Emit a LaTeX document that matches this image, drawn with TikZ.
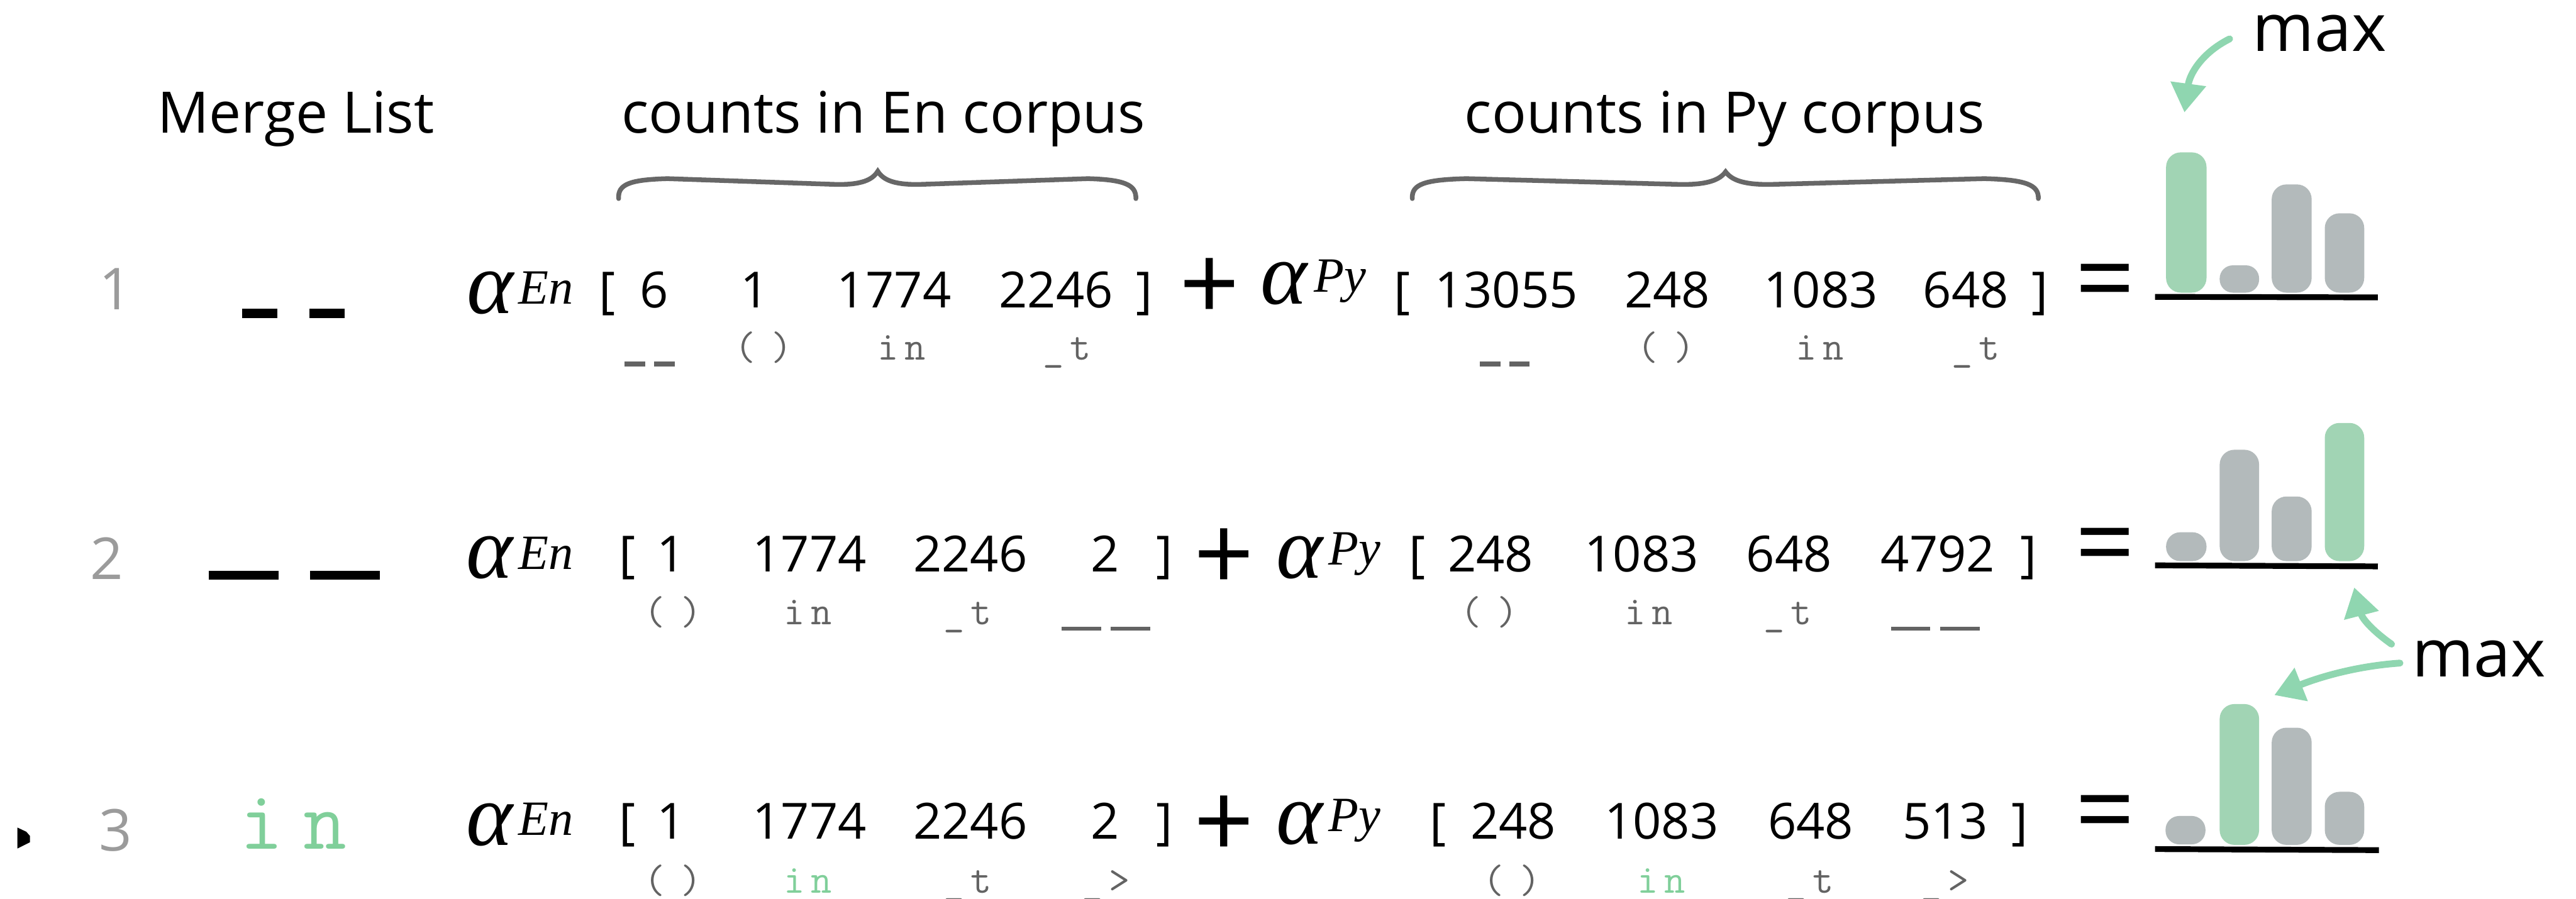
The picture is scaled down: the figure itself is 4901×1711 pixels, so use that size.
\documentclass[tikz,border=0pt]{standalone}
\usepackage{fontspec}
\setmainfont{Open Sans}
\newfontfamily\serfont{Liberation Serif}
\usetikzlibrary{arrows.meta}
\definecolor{barGreen}{HTML}{A1D4B4}
\definecolor{barGray}{HTML}{B3BABB}
\definecolor{arrGreen}{HTML}{8FD6B0}
\definecolor{txtGreen}{HTML}{80CF9A}
\definecolor{lblGray}{HTML}{636363}
\definecolor{numGray}{HTML}{9B9B9B}
\definecolor{braceGray}{HTML}{676767}
\newcommand\fsz[1]{\fontsize{#1}{#1}\selectfont}
\newcommand\mtok[3]{\rule{#1}{#2}\hspace{#3}\rule{#1}{#2}}
\begin{document}
\begin{tikzpicture}[x=0.1mm,y=-0.1mm,
  every node/.style={inner sep=0pt,outer sep=0pt},
  hdr/.style={anchor=base,font={\fsz{31}}},
  num/.style={anchor=base,font={\fsz{27}}},
  rown/.style={anchor=base,font={\fsz{31.3}},text=numGray},
  lbl/.style={anchor=base,font={\ttfamily\fsz{22}},text=lblGray},
  lblrule/.style={anchor=center,text=lblGray},
  optxt/.style={anchor=center,font={\fsz{57}}},
  alph/.style={anchor=base,font={\serfont\itshape\fsz{48}}},
  supr/.style={anchor=base west,font={\serfont\itshape\fsz{26.7}}},
  maxlbl/.style={anchor=base,font={\fsz{36}}},
  bracepath/.style={draw=braceGray,line width=0.9mm,line cap=round},
  arr/.style={draw=arrGreen,line width=1.3mm,line cap=round,
    -{Triangle[length=5.5mm,width=6.5mm]}},
  baseline rule/.style={line width=1.1mm}
]
\useasboundingbox (0,0) rectangle (4901,1711);

% headers
\node[hdr] (hML) at (563,253) {Merge List};
\node[hdr] (hEn) at (1681,253) {counts in En corpus};
\node[hdr] (hPy) at (3281,253) {counts in Py corpus};

% braces
\draw[bracepath] (1177,378) .. controls (1175,350) and (1200,342) .. (1270,340)
  -- (1590,351) .. controls (1640,352) and (1660,342) .. (1670,326)
  .. controls (1680,342) and (1700,352) .. (1750,351)
  -- (2070,340) .. controls (2140,342) and (2162,352) .. (2161,378);
\draw[bracepath] (2687,378) .. controls (2685,350) and (2712,342) .. (2790,340)
  -- (3195,351) .. controls (3250,352) and (3272,342) .. (3283,327)
  .. controls (3294,342) and (3316,352) .. (3370,351)
  -- (3775,340) .. controls (3855,342) and (3879,352) .. (3878,378);

% ---------- row 1
\node[rown] (r1) at (220,589) {1};
\node[anchor=center] (m1) at (558,596) {\mtok{6.7mm}{1.8mm}{6.1mm}};
\node[alph] (a1e) at (933,596) {α};
\node[supr] (s1e) at (987,579) {En};
\node[num] (lb1e) at (1155,586) {[};
\node[num] (n1a) at (1244,586) {6};
\node[num] (n1b) at (1436,586) {1};
\node[num] (n1c) at (1701,586) {1774};
\node[num] (n1d) at (2009,586) {2246};
\node[num] (rb1e) at (2177,586) {]};
\node[optxt] (p1) at (2301,551) {+};
\node[alph] (a1p) at (2443,579) {α};
\node[supr] (s1p) at (2500,556) {Py};
\node[num] (lb1p) at (2668,586) {[};
\node[num] (n1e) at (2866,586) {13055};
\node[num] (n1f) at (3172,586) {248};
\node[num] (n1g) at (3464,586) {1083};
\node[num] (n1h) at (3740,586) {648};
\node[num] (rb1p) at (3881,586) {]};
\node[optxt] (e1) at (4005,551) {=};
% labels row 1
\node[lblrule] (l1a) at (1236,693) {\mtok{3.9mm}{1.0mm}{1.7mm}};
\node[lbl] (l1b) at (1453,685) {(\kern0.38em)};
\node[lbl] (l1c) at (1715,685) {i\kern0.15em n};
\node[lbl] (l1d) at (2030,685) {\_\kern0.15em t};
\node[lblrule] (l1e) at (2863,693) {\mtok{3.9mm}{1.0mm}{1.7mm}};
\node[lbl] (l1f) at (3170,685) {(\kern0.38em)};
\node[lbl] (l1g) at (3462,685) {i\kern0.15em n};
\node[lbl] (l1h) at (3759,685) {\_\kern0.15em t};
% chart row 1
\fill[barGreen,rounded corners=2.8mm] (4121,557) rectangle (4198,290);
\fill[barGray,rounded corners=2.5mm] (4223,557) rectangle (4298,505);
\fill[barGray,rounded corners=2.8mm] (4322,557) rectangle (4398,351);
\fill[barGray,rounded corners=2.8mm] (4423,557) rectangle (4498,406);
\draw[baseline rule] (4100,565) -- (4524,566);

% ---------- row 2
\node[rown] (r2) at (203,1103) {2};
\node[anchor=center] (m2) at (560,1095) {\mtok{13.3mm}{1.7mm}{6.0mm}};
\node[alph] (a2e) at (931,1100) {α};
\node[supr] (s2e) at (987,1084) {En};
\node[num] (lb2e) at (1193,1088) {[};
\node[num] (n2a) at (1277,1088) {1};
\node[num] (n2b) at (1540,1088) {1774};
\node[num] (n2c) at (1846,1088) {2246};
\node[num] (n2d) at (2103,1088) {2};
\node[num] (rb2e) at (2215,1088) {]};
\node[optxt] (p2) at (2329,1066) {+};
\node[alph] (a2p) at (2473,1100) {α};
\node[supr] (s2p) at (2528,1075) {Py};
\node[num] (lb2p) at (2697,1088) {[};
\node[num] (n2e) at (2836,1088) {248};
\node[num] (n2f) at (3123,1088) {1083};
\node[num] (n2g) at (3404,1088) {648};
\node[num] (n2h) at (3687,1088) {4792};
\node[num] (rb2p) at (3860,1088) {]};
\node[optxt] (e2) at (4005,1054) {=};
% labels row 2
\node[lbl] (l2a) at (1280,1189) {(\kern0.38em)};
\node[lbl] (l2b) at (1537,1189) {i\kern0.15em n};
\node[lbl] (l2c) at (1841,1189) {\_\kern0.15em t};
\node[lblrule] (l2d) at (2104,1197) {\mtok{7.5mm}{0.7mm}{1.9mm}};
\node[lbl] (l2e) at (2834,1189) {(\kern0.38em)};
\node[lbl] (l2f) at (3137,1189) {i\kern0.15em n};
\node[lbl] (l2g) at (3401,1189) {\_\kern0.15em t};
\node[lblrule] (l2h) at (3682,1197) {\mtok{7.5mm}{0.7mm}{1.9mm}};
% chart row 2
\fill[barGray,rounded corners=2.7mm] (4121,1068) rectangle (4198,1013);
\fill[barGray,rounded corners=2.8mm] (4223,1068) rectangle (4298,856);
\fill[barGray,rounded corners=2.8mm] (4322,1068) rectangle (4398,945);
\fill[barGreen,rounded corners=2.8mm] (4423,1068) rectangle (4498,805);
\draw[baseline rule] (4100,1076) -- (4524,1078);

% ---------- row 3
\fill (33,1575) -- (50,1583) -- (57,1591) -- (57,1603) -- (33,1615) -- cycle;
\node[rown] (r3) at (220,1620) {3};
\node[anchor=base,font={\ttfamily\fsz{45.5}},text=txtGreen] (m3) at (558,1616) {i\kern0.24em n};
\node[alph] (a3e) at (931,1609) {α};
\node[supr] (s3e) at (987,1590) {En};
\node[num] (lb3e) at (1193,1597) {[};
\node[num] (n3a) at (1277,1597) {1};
\node[num] (n3b) at (1540,1597) {1774};
\node[num] (n3c) at (1846,1597) {2246};
\node[num] (n3d) at (2103,1597) {2};
\node[num] (rb3e) at (2215,1597) {]};
\node[optxt] (p3) at (2329,1574) {+};
\node[alph] (a3p) at (2473,1606) {α};
\node[supr] (s3p) at (2528,1582) {Py};
\node[num] (lb3p) at (2736,1597) {[};
\node[num] (n3e) at (2879,1597) {248};
\node[num] (n3f) at (3161,1597) {1083};
\node[num] (n3g) at (3445,1597) {648};
\node[num] (n3h) at (3701,1597) {513};
\node[num] (rb3p) at (3843,1597) {]};
\node[optxt] (e3) at (4005,1562) {=};
% labels row 3
\node[lbl] (l3a) at (1280,1700) {(\kern0.38em)};
\node[lbl,text=txtGreen] (l3b) at (1537,1700) {i\kern0.15em n};
\node[lbl] (l3c) at (1841,1700) {\_\kern0.15em t};
\node[lbl] (l3d) at (2104,1700) {\_\kern0.15em >};
\node[lbl] (l3e) at (2877,1700) {(\kern0.38em)};
\node[lbl,text=txtGreen] (l3f) at (3161,1700) {i\kern0.15em n};
\node[lbl] (l3g) at (3443,1700) {\_\kern0.15em t};
\node[lbl] (l3h) at (3700,1700) {\_\kern0.15em >};
% chart row 3
\fill[barGray,rounded corners=2.6mm] (4120,1607) rectangle (4196,1553);
\fill[barGreen,rounded corners=2.8mm] (4223,1608) rectangle (4298,1340);
\fill[barGray,rounded corners=2.8mm] (4322,1608) rectangle (4398,1385);
\fill[barGray,rounded corners=2.8mm] (4423,1608) rectangle (4498,1507);
\draw[baseline rule] (4100,1616) -- (4526,1618);

% ---------- max labels and arrows
\node[maxlbl] (max1) at (4413,98) {max};
\node[maxlbl] (max2) at (4716,1288) {max};
\coordinate (a1s) at (4242,74);
\coordinate (a1t) at (4156,214);
\coordinate (a2s) at (4550,1226);
\coordinate (a2t) at (4479,1118);
\coordinate (a3s) at (4566,1262);
\coordinate (a3t) at (4327,1323);
\draw[arr] (a1s) .. controls (4190,100) and (4166,140) .. (a1t);
\draw[arr] (a2s) .. controls (4520,1205) and (4495,1180) .. (a2t);
\draw[arr] (a3s) .. controls (4480,1268) and (4410,1290) .. (a3t);
\end{tikzpicture}
\end{document}
